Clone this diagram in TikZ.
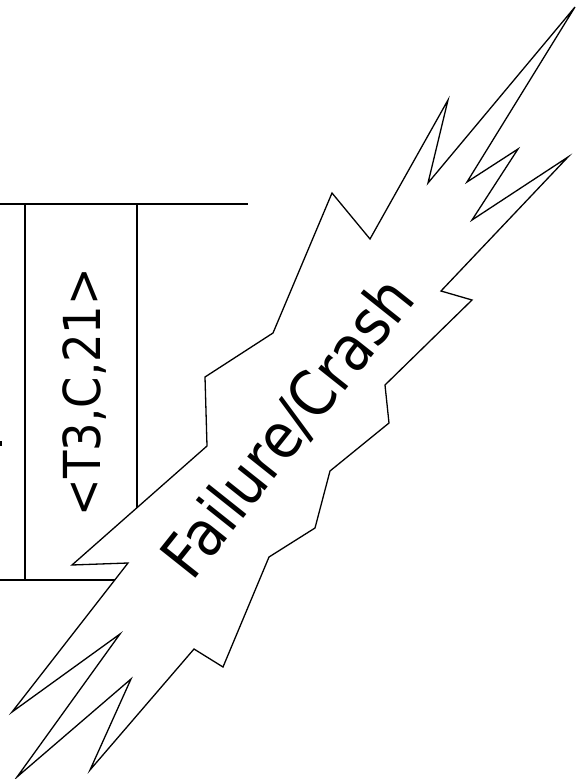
\documentclass[tikz,border=0pt]{standalone}
\usepackage{fontspec}
\newfontfamily\tah[FakeStretch=0.88]{DejaVu Sans}
\begin{document}
\begin{tikzpicture}[x=1pt,y=-1pt,
  rule/.style={draw=black,line width=1.2pt},
  bolt/.style={draw=black,fill=white,line width=1.3pt,line join=miter},
  lblA/.style={font=\tah\fontsize{51}{60}\selectfont,inner sep=0pt},
  lblB/.style={font=\tah\fontsize{63}{72}\selectfont,inner sep=0pt}]
\useasboundingbox (0,0) rectangle (577,779);
% table lines
\coordinate (tl) at (0,204);
\coordinate (tr) at (248,204);
\coordinate (bl) at (0,580);
\coordinate (br) at (248,580);
\coordinate (v1t) at (25,204);
\coordinate (v1b) at (25,580);
\coordinate (v2t) at (137,204);
\coordinate (v2b) at (137,580);
\draw[rule] (tl) -- (tr);
\draw[rule] (bl) -- (br);
\draw[rule] (v1t) -- (v1b);
\draw[rule] (v2t) -- (v2b);
\fill (0,441) rectangle (1.5,446);
% lightning bolt
\draw[bolt] (575,7) -- (428,183) -- (448,100) -- (370,239) -- (332,193)
  -- (273,333) -- (205,377) -- (207,446) -- (72,565) -- (128,563)
  -- (12,712) -- (120,634) -- (17,777) -- (131,679) -- (90,770)
  -- (194,649) -- (223,667) -- (269,557) -- (315,528) -- (330,471)
  -- (389,423) -- (385,385) -- (472,300) -- (441,291) -- (568,157)
  -- (472,220) -- (518,149) -- (467,182) -- cycle;
% labels
\node[lblA,rotate=90,anchor=base] (tuple) at (100,392) {<T3,C,21>};
\node[lblB,rotate=51.5,anchor=base] (fail) at (305,441) {Failure/Crash};
\end{tikzpicture}
\end{document}
